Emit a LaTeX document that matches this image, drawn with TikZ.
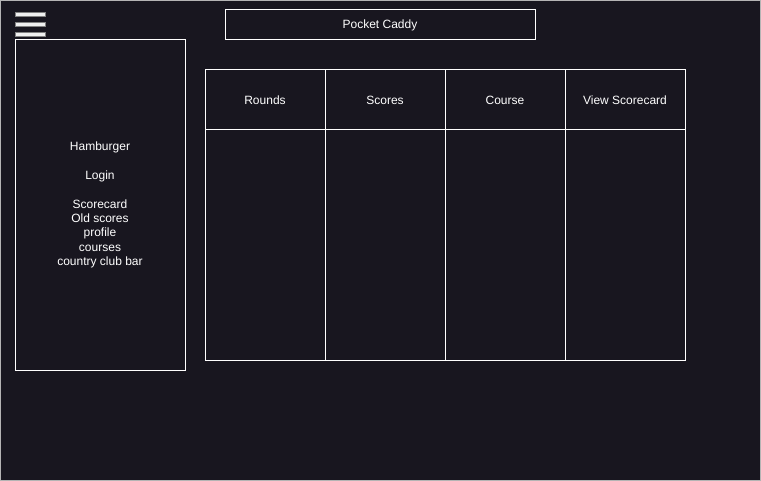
\documentclass[tikz,border=0pt]{standalone}
\usepackage{fontspec}
\setmainfont{Liberation Sans}
\usepackage{tikz}
\usetikzlibrary{positioning}
\definecolor{pagebg}{RGB}{24,22,31}
\definecolor{barfill}{RGB}{240,240,240}
\definecolor{bargray}{RGB}{130,130,130}
\tikzset{
 wire/.style = {draw=white, line width=1pt, inner sep=0pt, font=\fontsize{12}{14.3}\selectfont, text=white},
 headcell/.style = {wire, minimum width=120pt, minimum height=60pt},
 bodycell/.style = {wire, minimum width=120pt, minimum height=230pt},
 bar/.style = {fill=barfill, draw=bargray, line width=1pt}
}

\begin{document}
\begin{tikzpicture}[x=1pt, y=-1pt]
 \fill[pagebg, draw=bargray!60, line width=0.6pt] (0.3,0.3) rectangle (760.7,480.7);
 \useasboundingbox (0,0) rectangle (761,481);
 \foreach \y in {15,25,35}
  \draw[bar] (15,\y-2) rectangle (45,\y+2);
 \node[wire, minimum width=310pt, minimum height=30pt] (title) at (380,25) {Pocket Caddy};
 \node[wire, minimum width=170pt, minimum height=330pt, align=center] (menu) at (100,205) {Hamburger\\ \\Login\\ \\Scorecard\\Old scores\\profile\\courses\\country club bar};
 \node[headcell] (rounds) at (265,100) {Rounds};
 \node[headcell] (scores) at (385,100) {Scores};
 \node[headcell] (course) at (505,100) {Course};
 \node[headcell] (viewcard) at (625,100) {View Scorecard};
 \node[bodycell] (roundsbody) at (265,245) {};
 \node[bodycell] (scoresbody) at (385,245) {};
 \node[bodycell] (coursebody) at (505,245) {};
 \node[bodycell] (viewcardbody) at (625,245) {};
\end{tikzpicture}
\end{document}
